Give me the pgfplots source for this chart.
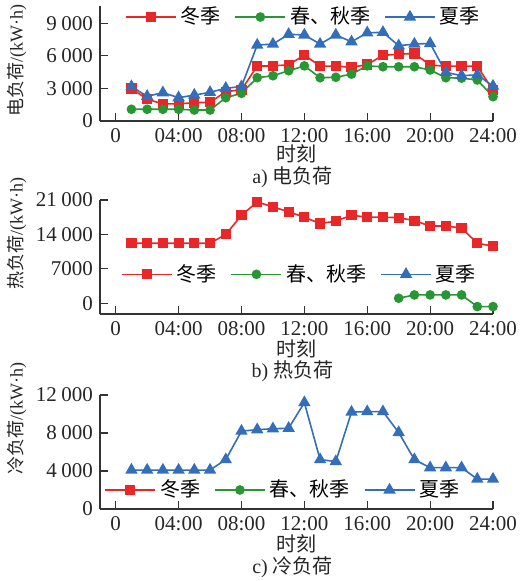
\documentclass[border=0pt]{standalone}
\usepackage{fontspec}
\setmainfont{Liberation Serif}
\newfontfamily\cjk{Noto Sans CJK SC}
\usepackage{pgfplots}
\pgfplotsset{compat=1.18}
\definecolor{cred}{RGB}{232,40,40}
\definecolor{cgreen}{RGB}{40,150,50}
\definecolor{cblue}{RGB}{50,110,185}
\newcommand{\ts}{\hspace{0.22em}}
\pgfplotsset{
  panel/.style={
    width=196.5pt, scale only axis, xmin=-1, xmax=24,
    axis x line=bottom, axis y line=left,
    axis line style={-, line width=0.6pt, color=black!80},
    xtick={0,4,...,24}, xticklabels={0,04:00,08:00,12:00,16:00,20:00,24:00},
    scaled y ticks=false, scaled x ticks=false,
    tick align=inside, major tick length=4pt,
    tick style={line width=0.6pt, color=black!80},
    ticklabel style={font=\fontsize{10.5}{12}\selectfont, text=black!85},
    /pgf/number format/assume math mode=true,
    clip=false,
    legend style={draw=none, fill=none, font=\fontsize{10}{12}\selectfont\cjk, legend columns=3, anchor=center,
      /tikz/every even column/.append style={column sep=5pt}},
    legend cell align=left,
    legend image code/.code={\draw[mark repeat=2,mark phase=2] plot coordinates {(0pt,0pt) (12.5pt,0pt) (25pt,0pt)};},
    ylabel style={font=\fontsize{9}{11}\selectfont, text=black!85, anchor=center},
  },
  winter/.style={color=cred, line width=0.8pt, mark=square*, mark size=2.15pt, mark options={solid}},
  spring/.style={color=cgreen, line width=0.8pt, mark=*, mark size=2.0pt, mark options={solid}},
  summer/.style={color=cblue, line width=0.8pt, mark=triangle*, mark size=2.8pt, mark options={solid}},
}
\begin{document}
\begin{tikzpicture}
\path[use as bounding box] (0,0) rectangle (259.5pt,-290.5pt);
% ---------------- a) electric load
\begin{axis}[panel, at={(50pt,-60.5pt)}, anchor=south west, height=57.5pt,
  ymin=0, ymax=10600, ytick={0,3000,6000,9000},
  yticklabels={0,3\ts000,6\ts000,9\ts000},
  ylabel={{\cjk 电负荷}/(kW·h)},
  ylabel style={at={(axis description cs:-0.211,0.53)}},
  legend style={at={(0.52,0.904)}},
  legend entries={冬季,春、秋季,夏季}]
\addplot[winter] coordinates {(1,3000)(2,2000)(3,1580)(4,1580)(5,1690)(6,1720)(7,2700)(8,2880)(9,5060)(10,5080)(11,5180)(12,6080)(13,5060)(14,5060)(15,4950)(16,5200)(17,6050)(18,6150)(19,6230)(20,5150)(21,5060)(22,5060)(23,5060)(24,2820)};
\addplot[spring] coordinates {(1,1080)(2,1080)(3,1080)(4,1080)(5,1010)(6,1010)(7,2150)(8,2550)(9,3990)(10,4170)(11,4630)(12,5080)(13,3990)(14,4030)(15,4320)(16,5080)(17,5000)(18,5000)(19,5000)(20,4700)(21,3990)(22,3950)(23,3780)(24,2240)};
\addplot[summer] coordinates {(1,3170)(2,2280)(3,2610)(4,2150)(5,2390)(6,2640)(7,3020)(8,3170)(9,7000)(10,7090)(11,7990)(12,7930)(13,7090)(14,7930)(15,7300)(16,8130)(17,8170)(18,6940)(19,7090)(20,7150)(21,4480)(22,4180)(23,4250)(24,3220)};
\node[font=\fontsize{10}{12}\selectfont\cjk, text=black!85] at (rel axis cs:0.5,0) [yshift=-16.3pt] {时刻};
\node[font=\fontsize{10}{12}\selectfont, text=black!85] at (rel axis cs:0.49,0) [yshift=-28pt] {a) {\cjk 电负荷}};
\end{axis}
% ---------------- b) heat load
\begin{axis}[panel, at={(50pt,-157pt)}, anchor=south west, height=57pt,
  ymin=-2200, ymax=21000, ytick={0,7000,14000,21000},
  yticklabels={0,7000,14\ts000,21\ts000},
  ylabel={{\cjk 热负荷}/(kW·h)},
  ylabel style={at={(axis description cs:-0.211,0.71)}},
  legend style={at={(0.51,0.348)}},
  legend entries={冬季,春、秋季,夏季}]
\addplot[winter] coordinates {(1,12200)(2,12200)(3,12200)(4,12200)(5,12200)(6,12200)(7,14000)(8,17900)(9,20600)(10,19600)(11,18600)(12,17500)(13,16200)(14,16700)(15,17900)(16,17500)(17,17500)(18,17400)(19,16800)(20,15700)(21,15700)(22,15300)(23,12200)(24,11600)};
\addplot[spring] coordinates {(18,1010)(19,1680)(20,1680)(21,1680)(22,1680)(23,-690)(24,-690)};
\addlegendimage{summer}
\node[font=\fontsize{10}{12}\selectfont\cjk, text=black!85] at (rel axis cs:0.5,0) [yshift=-17.2pt] {时刻};
\node[font=\fontsize{10}{12}\selectfont, text=black!85] at (rel axis cs:0.49,0) [yshift=-28.5pt] {b) {\cjk 热负荷}};
\end{axis}
% ---------------- c) cooling load
\begin{axis}[panel, at={(50pt,-254.5pt)}, anchor=south west, height=57pt,
  ymin=0, ymax=12000, ytick={0,4000,8000,12000},
  yticklabels={0,4\ts000,8\ts000,12\ts000},
  ylabel={{\cjk 冷负荷}/(kW·h)},
  ylabel style={at={(axis description cs:-0.211,0.79)}},
  legend style={at={(0.468,0.167)}},
  legend entries={冬季,春、秋季,夏季}]
\addlegendimage{winter}
\addlegendimage{spring}
\addplot[summer] coordinates {(1,4100)(2,4100)(3,4100)(4,4100)(5,4100)(6,4100)(7,5200)(8,8200)(9,8350)(10,8450)(11,8500)(12,11200)(13,5200)(14,5000)(15,10200)(16,10250)(17,10250)(18,8050)(19,5200)(20,4350)(21,4350)(22,4350)(23,3150)(24,3150)};
\node[font=\fontsize{10}{12}\selectfont\cjk, text=black!85] at (rel axis cs:0.5,0) [yshift=-17.3pt] {时刻};
\node[font=\fontsize{10}{12}\selectfont, text=black!85] at (rel axis cs:0.49,0) [yshift=-29.3pt] {c) {\cjk 冷负荷}};
\end{axis}
\end{tikzpicture}
\end{document}
